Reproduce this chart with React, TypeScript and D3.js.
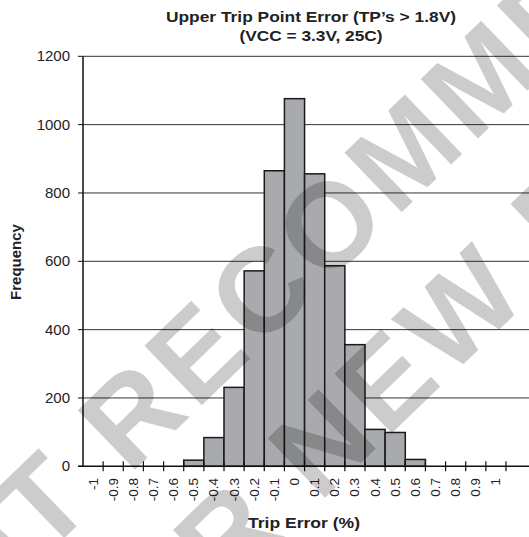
import React from "react";
import * as d3 from "d3";

// histogram bins (trip error, %) and counts
const binLabels = [
  "-1", "-0.9", "-0.8", "-0.7", "-0.6", "-0.5", "-0.4", "-0.3", "-0.2", "-0.1", "0",
  "0.1", "0.2", "0.3", "0.4", "0.5", "0.6", "0.7", "0.8", "0.9", "1",
];
const counts = [0, 0, 0, 0, 0, 18, 84, 231, 572, 865, 1076, 856, 587, 356, 108, 99, 20, 0, 0, 0, 0];
const yTicks = [0, 200, 400, 600, 800, 1000, 1200];
const titleLines = ["Upper Trip Point Error (TP\u2019s > 1.8V)", "(VCC = 3.3V, 25C)"];
const titleWidths = [290, 143];
const watermarkLines = ["NOT RECOMMENDED", "FOR NEW DESIGNS"];

const W = 529;
const H = 537;
const font = "Liberation Sans, Arial, Helvetica, sans-serif";

export default function App() {
  const x = d3.scaleBand<string>().domain(binLabels).range([83, 506]).padding(0);
  const y = d3.scaleLinear().domain([0, 1200]).range([466.3, 56.3]);
  const bw = x.bandwidth();

  return (
    <div style={{ position: "absolute", left: 0, top: 0 }}>
      <svg width={W} height={H} style={{ display: "block", background: "#fff" }} fontFamily={font}>
        {/* title */}
        {titleLines.map((t, i) => (
          <text
            key={t}
            x={311 - titleWidths[i] / 2}
            y={22 + i * 19}
            textLength={titleWidths[i]}
            lengthAdjust="spacingAndGlyphs"
            fontSize={15}
            fontWeight="bold"
            fill="#222"
          >
            {t}
          </text>
        ))}

        {/* gridlines */}
        {yTicks.slice(1).map((v) => (
          <line key={v} x1={83} x2={W} y1={y(v)} y2={y(v)} stroke="#333" strokeWidth={1} />
        ))}

        {/* bars */}
        {binLabels.map((b, i) =>
          counts[i] > 0 ? (
            <rect
              key={b}
              x={x(b)}
              y={y(counts[i])}
              width={bw}
              height={y(0) - y(counts[i])}
              fill="#a9aaad"
              stroke="#1a1a1a"
              strokeWidth={1.5}
            />
          ) : null
        )}

        {/* y axis */}
        <line x1={83} x2={83} y1={y(1200)} y2={y(0)} stroke="#111" strokeWidth={1.5} />
        {yTicks.map((v) => (
          <g key={v}>
            <line x1={78} x2={83} y1={y(v)} y2={y(v)} stroke="#111" strokeWidth={1} />
            <text x={70} y={y(v) + 5} textAnchor="end" fontSize={15} fill="#222">
              {v}
            </text>
          </g>
        ))}

        {/* x axis */}
        <line x1={78} x2={W} y1={y(0)} y2={y(0)} stroke="#111" strokeWidth={1.5} />
        {binLabels.map((b) => (
          <line key={"t" + b} x1={x(b)! + bw} x2={x(b)! + bw} y1={y(0) - 5} y2={y(0) + 5} stroke="#111" strokeWidth={1.2} />
        ))}
        {binLabels.map((b) => {
          const cx = x(b)! + bw / 2;
          return (
            <text
              key={"l" + b}
              transform={`translate(${cx + 4.5},478) rotate(-90)`}
              textAnchor="end"
              fontSize={13.5}
              fill="#222"
            >
              {b}
            </text>
          );
        })}

        {/* axis titles */}
        <text
          transform="translate(21,262) rotate(-90)"
          textAnchor="middle"
          fontSize={15}
          fontWeight="bold"
          fill="#222"
        >
          Frequency
        </text>
        <text x={248} y={528} textLength={112} lengthAdjust="spacingAndGlyphs" fontSize={15.5} fontWeight="bold" fill="#222">
          Trip Error (%)
        </text>

        {/* watermark */}
        <g fill="#000" fillOpacity={0.2} fontWeight="bold" fontSize={120} letterSpacing={6}>
          <text transform="translate(30,510) rotate(-44)" x={-215} y={44}>
            {watermarkLines[0]}
          </text>
          <text transform="translate(425,340) rotate(-44)" x={-500} y={44}>
            {watermarkLines[1]}
          </text>
        </g>
      </svg>
    </div>
  );
}
